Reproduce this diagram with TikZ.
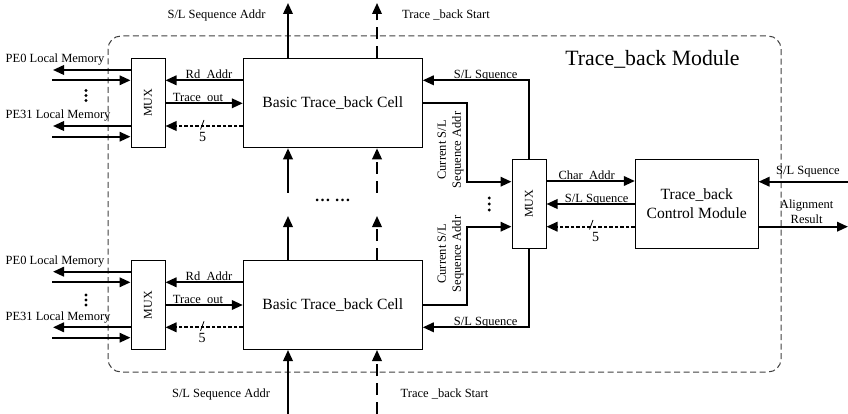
\documentclass[tikz,border=0pt]{standalone}
\usepackage{fontspec}
\setmainfont{Liberation Serif}
\usetikzlibrary{arrows.meta}
\begin{document}
\begin{tikzpicture}[x=1pt,y=-1pt,
  box/.style={draw, line width=1pt, inner sep=0pt, align=center,
    font=\fontsize{15.6}{18.7}\selectfont},
  cellbox/.style={box, minimum width=179pt, minimum height=89pt},
  muxbox/.style={draw, line width=1pt, inner sep=0pt, minimum width=34pt,
    minimum height=89pt, font=\fontsize{12}{14}\selectfont},
  arr/.style={line width=2pt, -{Triangle[length=11pt,width=9.5pt]}},
  dotarr/.style={arr, dash pattern=on 3.5pt off 2pt},
  longdash/.style={arr, dash pattern=on 12pt off 7pt},
  lbl/.style={font=\fontsize{12.5}{15}\selectfont, inner sep=0pt, anchor=base},
  rlbl/.style={font=\fontsize{12.5}{15}\selectfont, inner sep=0pt, rotate=90, align=center},
  five/.style={font=\fontsize{14}{14}\selectfont, inner sep=0pt},
  slash/.style={line width=0.8pt},
  dot/.style={fill=black, draw=none},
]
\useasboundingbox (0,0) rectangle (848,414);

% module frame
\draw[black!75, line width=1pt, dash pattern=on 6pt off 3.5pt, rounded corners=13pt]
  (108,36) rectangle (781,372);
\node[font=\fontsize{21.8}{24}\selectfont, inner sep=0pt, anchor=base] (title) at (652.5,65.5) {Trace\_back Module};

% nodes
\node[muxbox] (m1) at (148,103) {\rotatebox{90}{MUX}};
\node[muxbox] (m3) at (148,305) {\rotatebox{90}{MUX}};
\node[cellbox] (c1) at (332.8,103.3) {Basic Trace\_back Cell};
\node[cellbox] (c2) at (332.8,305) {Basic Trace\_back Cell};
\node[muxbox] (m2) at (529,203.8) {\rotatebox{90}{MUX}};
\node[box, minimum width=122.7pt, minimum height=89pt] (ctrl) at (696.7,203.8) {Trace\_back\\Control Module};

% free ends
\coordinate (p1o) at (53,70);    \coordinate (p1i) at (52,80.3);
\coordinate (p2o) at (53,126);   \coordinate (p2i) at (52,136.7);
\coordinate (p3o) at (53,271.7); \coordinate (p3i) at (52,282.3);
\coordinate (p4o) at (53,327.3); \coordinate (p4i) at (52,337.7);
\coordinate (t1) at (288,3);   \coordinate (t2) at (377,3);
\coordinate (b1) at (288,193); \coordinate (b2) at (377,193);
\coordinate (u1) at (288,216); \coordinate (u2) at (377,216);
\coordinate (d1) at (288,414); \coordinate (d2) at (377,414);
\coordinate (k1) at (467.3,181.7); \coordinate (k2) at (467.3,226.7);
\coordinate (r1) at (848,181.7); \coordinate (r2) at (848,226.7);

% local memory ports
\draw[arr] (m1.west |- p1o) -- (p1o);
\draw[arr] (p1i) -- (m1.west |- p1i);
\draw[arr] (m1.west |- p2o) -- (p2o);
\draw[arr] (p2i) -- (m1.west |- p2i);
\draw[arr] (m3.west |- p3o) -- (p3o);
\draw[arr] (p3i) -- (m3.west |- p3i);
\draw[arr] (m3.west |- p4o) -- (p4o);
\draw[arr] (p4i) -- (m3.west |- p4i);

\node[lbl] at (55,62.3) {PE0 Local Memory};
\node[lbl] at (58,118.5) {PE31 Local Memory};
\node[lbl] at (55,264.3) {PE0 Local Memory};
\node[lbl] at (58,320.5) {PE31 Local Memory};
\foreach \yy in {90.5,95.5,100.5,295,300,305} \fill[dot] (86,\yy) circle (1.6pt);

% mux <-> cell
\draw[arr] (c1.west |- 0,80.3) -- (m1.east |- 0,80.3);
\draw[arr] (m1.east |- 0,103.3) -- (c1.west |- 0,103.3);
\draw[dotarr] (c1.west |- 0,126) -- (m1.east |- 0,126);
\node[lbl] at (209,78.3) {Rd\_Addr};
\node[lbl] at (198,101.2) {Trace\_out};
\draw[slash] (200.5,129.5) -- (204,120);
\node[five] at (202.5,136.7) {5};

\draw[arr] (c2.west |- 0,282.3) -- (m3.east |- 0,282.3);
\draw[arr] (m3.east |- 0,305) -- (c2.west |- 0,305);
\draw[dotarr] (c2.west |- 0,327.3) -- (m3.east |- 0,327.3);
\node[lbl] at (209,280.3) {Rd\_Addr};
\node[lbl] at (198,303) {Trace\_out};
\draw[slash] (200.5,330.8) -- (204,321.3);
\node[five] at (202,338) {5};

% vertical ports
\node[lbl] at (216.5,18.3) {S/L Sequence Addr};
\node[lbl] at (446,18.3) {Trace \_back Start};
\node[lbl] at (221,397.3) {S/L Sequence Addr};
\node[lbl] at (444.5,397.3) {Trace \_back Start};
\draw[arr] (t1 |- c1.north) -- (t1);
\draw[longdash] (t2 |- c1.north) -- (t2);
\draw[arr] (b1) -- (b1 |- c1.south);
\draw[longdash] (b2) -- (b2 |- c1.south);
\draw[arr] (u1 |- c2.north) -- (u1);
\draw[longdash] (u2 |- c2.north) -- (u2);
\draw[arr] (d1) -- (d1 |- c2.south);
\draw[longdash] (d2) -- (d2 |- c2.south);
\node[font=\fontsize{16}{16}\selectfont\bfseries, inner sep=0pt] (mid) at (332.5,200.5) {… …};

% cells <-> central mux
\draw[arr] (m2.north) |- (c1.east |- 0,80.3);
\draw[arr] (m2.south) |- (c2.east |- 0,327.3);
\node[lbl] at (485.7,78.3) {S/L Squence};
\node[lbl] at (485.7,325.3) {S/L Squence};
\draw[arr] (c1.east) -| (k1) -- (k1 -| m2.west);
\draw[arr] (c2.east) -| (k2) -- (k2 -| m2.west);
\node[rlbl] at (450.5,150) {Current S/L\\Sequence Addr};
\node[rlbl] at (450.5,254) {Current S/L\\Sequence Addr};
\foreach \yy in {198,204,210} \fill[dot] (489.3,\yy) circle (1.6pt);

% central mux <-> control
\draw[arr] (m2.east |- 0,181) -- (ctrl.west |- 0,181);
\draw[arr] (ctrl.west |- 0,204) -- (m2.east |- 0,204);
\draw[dotarr] (ctrl.west |- 0,226.7) -- (m2.east |- 0,226.7);
\node[lbl] at (586.7,179.5) {Char\_Addr};
\node[lbl] at (596.7,202) {S/L Squence};
\draw[slash] (589.5,229.5) -- (593,220);
\node[five] at (595.7,237) {5};

% control external
\draw[arr] (r1) -- (r1 -| ctrl.east);
\draw[arr] (r2 -| ctrl.east) -- (r2);
\node[lbl] at (808,174.3) {S/L Squence};
\node[lbl] at (806.7,208.5) {Alignment};
\node[lbl] at (806.7,223.5) {Result};
\end{tikzpicture}
\end{document}
